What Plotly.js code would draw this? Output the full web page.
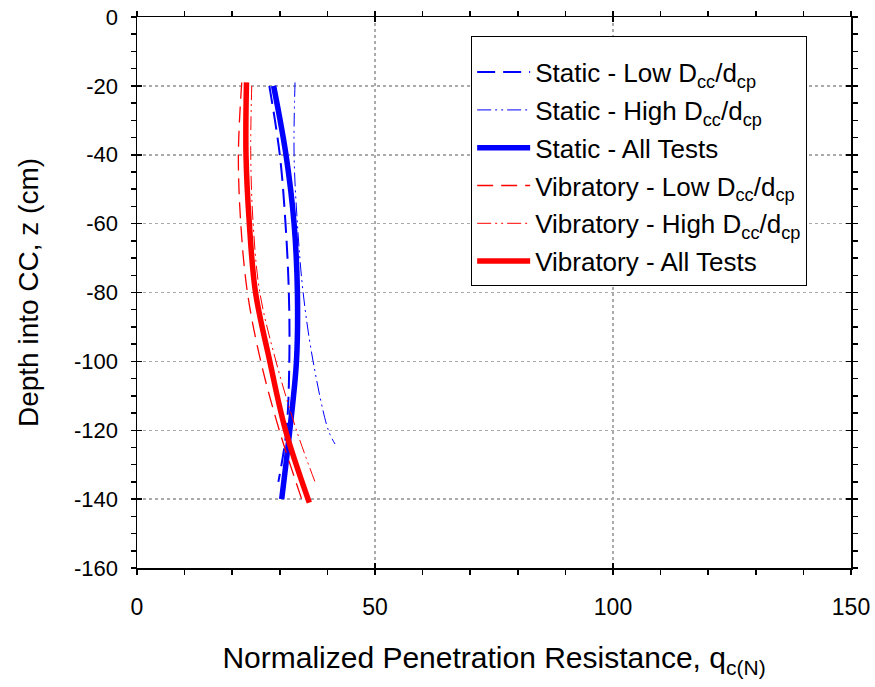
<!DOCTYPE html>
<html>
<head>
<meta charset="utf-8">
<script src="https://cdn.plot.ly/plotly-3.0.1.min.js"></script>
<style>html,body{margin:0;padding:0;background:#fff}#chart{width:875px;height:687px}</style>
</head>
<body>
<div id="chart"></div>
<script>
// Depth (cm) and normalized penetration resistance values
const staticLowZ  = [-20, -40, -60, -80, -100, -120, -135];
const staticLowQ  = [27.8, 30.0, 31.2, 31.9, 32.0, 31.4, 29.7];
const staticHighZ = [-19, -40, -60, -80, -100, -120, -124];
const staticHighQ = [33.2, 33.0, 33.7, 34.9, 37.0, 40.2, 41.6];
const staticAllZ  = [-20, -40, -60, -80, -100, -120, -140];
const staticAllQ  = [28.7, 31.3, 33.0, 33.7, 33.5, 32.1, 30.4];
const vibLowZ     = [-19, -40, -60, -80, -100, -120, -140];
const vibLowQ     = [22.0, 21.3, 21.8, 23.2, 26.0, 29.9, 34.6];
const vibHighZ    = [-20, -40, -60, -80, -100, -120, -135];
const vibHighQ    = [24.1, 23.9, 24.4, 25.8, 29.2, 33.5, 37.4];
const vibAllZ     = [-19, -40, -60, -80, -100, -120, -141];
const vibAllQ     = [23.0, 22.9, 23.6, 24.9, 27.9, 31.2, 36.2];

// Tick labels
const xTickVals   = [0, 50, 100, 150];
const xTickLabels = ['0', '50', '100', '150'];
const yTickVals   = [0, -20, -40, -60, -80, -100, -120, -140, -160];
const yTickLabels = ['0', '-20', '-40', '-60', '-80', '-100', '-120', '-140', '-160'];

const names = [
  'Static - Low D<sub>cc</sub>/d<sub>cp</sub>',
  'Static - High D<sub>cc</sub>/d<sub>cp</sub>',
  'Static - All Tests',
  'Vibratory - Low D<sub>cc</sub>/d<sub>cp</sub>',
  'Vibratory - High D<sub>cc</sub>/d<sub>cp</sub>',
  'Vibratory - All Tests'
];

const FONT = 'Liberation Sans, Arial, sans-serif';
const BLUE = '#0000ff', RED = '#ff0000';
const dashDotDot = '14px,4px,2px,4px,2px,4px';

function tr(x, y, name, color, width, dash, g) {
  return {x: x, y: y, name: name, type: 'scatter', mode: 'lines',
    line: {color: color, width: width, dash: dash, shape: 'spline', smoothing: 1.0},
    legendgroup: 'g' + g, hoverinfo: 'skip'};
}

const data = [
  tr(staticLowQ, staticLowZ, names[0], BLUE, 2, '18px,8px', 1),
  tr(staticHighQ, staticHighZ, names[1], BLUE, 1, dashDotDot, 2),
  tr(staticAllQ, staticAllZ, names[2], BLUE, 5.5, 'solid', 3),
  tr(vibLowQ, vibLowZ, names[3], RED, 1.3, '16px,8px', 4),
  tr(vibHighQ, vibHighZ, names[4], RED, 1, dashDotDot, 5),
  tr(vibAllQ, vibAllZ, names[5], RED, 5.5, 'solid', 6)
];
// invisible trace to anchor overlay axes (inner half of crossing major ticks)
data.push({x: [0], y: [0], xaxis: 'x2', yaxis: 'y2', mode: 'markers',
  marker: {opacity: 0}, showlegend: false, hoverinfo: 'skip'});

const layout = {
  width: 875, height: 687,
  margin: {l: 137, r: 24, t: 17, b: 119},
  paper_bgcolor: '#ffffff', plot_bgcolor: '#ffffff',
  font: {family: FONT, color: '#000000', size: 22},
  showlegend: true,
  legend: {x: 0.468, y: 0.9655, xanchor: 'left', yanchor: 'top',
    bordercolor: '#000000', borderwidth: 1, bgcolor: '#ffffff',
    font: {family: FONT, size: 26, color: '#000000'},
    title: {text: ' ', font: {family: FONT, size: 9}},
    traceorder: 'grouped', tracegroupgap: 1, itemwidth: 53},
  xaxis: {
    range: [0, 150], tickmode: 'array', tickvals: xTickVals, ticktext: xTickLabels,
    showline: true, linecolor: '#000000', linewidth: 1.5, mirror: 'allticks',
    ticks: 'outside', ticklen: 5, tickwidth: 1.5, tickcolor: '#000000',
    minor: {dtick: 10, tick0: 0, ticks: 'outside', ticklen: 5, tickwidth: 1.5, tickcolor: '#000000', showgrid: false},
    showgrid: true, gridcolor: '#aaaaaa', griddash: 'dot', gridwidth: 1.5,
    zeroline: false,
    tickfont: {family: FONT, size: 23},
    ticklabelstandoff: 13,
    title: {text: 'Normalized Penetration Resistance, q<sub>c(N)</sub>', font: {family: FONT, size: 30}, standoff: 28}
  },
  yaxis: {
    range: [-160, 0], tickmode: 'array', tickvals: yTickVals, ticktext: yTickLabels,
    showline: true, linecolor: '#000000', linewidth: 1.5, mirror: 'allticks',
    ticks: 'outside', ticklen: 5, tickwidth: 1.5, tickcolor: '#000000',
    minor: {dtick: 5, tick0: 0, ticks: 'outside', ticklen: 5, tickwidth: 1.5, tickcolor: '#000000', showgrid: false},
    showgrid: true, gridcolor: '#aaaaaa', griddash: 'dot', gridwidth: 1.5,
    zeroline: false,
    tickfont: {family: FONT, size: 22},
    ticklabelstandoff: 8,
    title: {text: 'Depth into CC, z (cm)', font: {family: FONT, size: 28}, standoff: 27}
  },
  xaxis2: {overlaying: 'x', range: [0, 150], tickmode: 'array', tickvals: xTickVals, ticks: 'inside', ticklen: 5, tickwidth: 1.5,
    tickcolor: '#000000', mirror: 'allticks', showticklabels: false, showgrid: false, zeroline: false, showline: false, anchor: 'y2'},
  yaxis2: {overlaying: 'y', range: [-160, 0], tickmode: 'array', tickvals: yTickVals, ticks: 'inside', ticklen: 5, tickwidth: 1.5,
    tickcolor: '#000000', mirror: 'allticks', showticklabels: false, showgrid: false, zeroline: false, showline: false, anchor: 'x2'}
};

Plotly.newPlot('chart', data, layout, {staticPlot: true, displayModeBar: false});
</script>
</body>
</html>
